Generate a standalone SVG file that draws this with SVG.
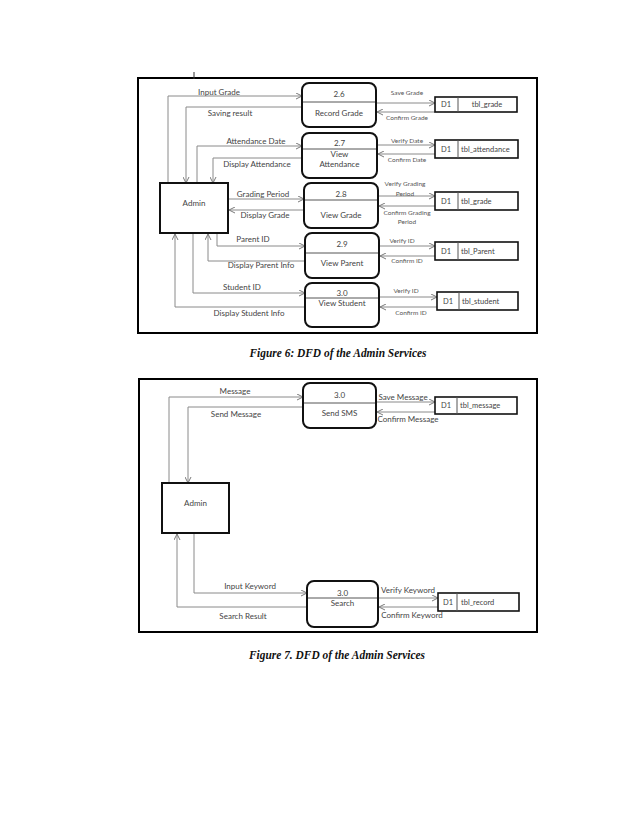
<svg xmlns="http://www.w3.org/2000/svg" width="638" height="826" viewBox="0 0 638 826">
<defs>
<marker id="arr" markerWidth="7" markerHeight="7" refX="6" refY="3.5" orient="auto" markerUnits="userSpaceOnUse">
<path d="M0,0.5 L6,3.5 L0,6.5" fill="none" stroke="#7a7a7a" stroke-width="1"/>
</marker>
</defs>
<style>
.frame{fill:none;stroke:#000;stroke-width:2}
.proc{fill:#fff;stroke:#111;stroke-width:2}
.ent{fill:#fff;stroke:#111;stroke-width:2}
.store{fill:#fff;stroke:#111;stroke-width:1.6}
.div{stroke:#555;stroke-width:1}
.fl{fill:none;stroke:#8a8a8a;stroke-width:1;marker-end:url(#arr)}
.t{font-family:Lato,"Liberation Sans",sans-serif;font-size:8px;fill:#444;text-anchor:middle}
.s{font-family:Lato,"Liberation Sans",sans-serif;font-size:6.5px;fill:#555;text-anchor:middle}
.st{font-family:Lato,"Liberation Sans",sans-serif;font-size:7.5px;fill:#444}
.cap{font-family:"Liberation Serif",serif;font-size:11.5px;font-weight:bold;font-style:italic;fill:#111;text-anchor:middle}
</style>
<rect width="638" height="826" fill="#fff"/>

<!-- Figure 6 -->
<rect class="frame" x="138" y="78" width="399" height="255"/>
<line x1="194" y1="72" x2="194" y2="79" stroke="#333" stroke-width="1"/>

<g id="connectors6">
<path class="fl" d="M168,183 V96 H302"/>
<path class="fl" d="M302,107 H186 V183"/>
<path class="fl" d="M197,183 V146 H302"/>
<path class="fl" d="M302,158 H213 V183"/>
<path class="fl" d="M228,199 H304"/>
<path class="fl" d="M304,210 H229"/>
<path class="fl" d="M217,233 V246 H305"/>
<path class="fl" d="M305,261 H208 V234"/>
<path class="fl" d="M193,233 V293 H305"/>
<path class="fl" d="M305,307 H175 V234"/>
<path class="fl" d="M376,103 H435"/>
<path class="fl" d="M435,112 H377"/>
<path class="fl" d="M377,145 H435"/>
<path class="fl" d="M435,154 H378"/>
<path class="fl" d="M378,196 H435"/>
<path class="fl" d="M435,206 H379"/>
<path class="fl" d="M379,246 H435"/>
<path class="fl" d="M435,256 H380"/>
<path class="fl" d="M379,297 H437"/>
<path class="fl" d="M437,307 H380"/>
<text class="t" x="219" y="95">Input Grade</text>
<text class="t" x="230" y="116">Saving result</text>
<text class="t" x="256" y="144">Attendance Date</text>
<text class="t" x="257" y="167">Display Attendance</text>
<text class="t" x="263" y="197">Grading Period</text>
<text class="t" x="265" y="218">Display Grade</text>
<text class="t" x="253" y="242">Parent ID</text>
<text class="t" x="261" y="268">Display Parent Info</text>
<text class="t" x="242" y="290">Student ID</text>
<text class="t" x="249" y="316">Display Student Info</text>
<text class="s" x="407" y="95">Save Grade</text>
<text class="s" x="407" y="120">Confirm Grade</text>
<text class="s" x="407" y="143">Verify Date</text>
<text class="s" x="407" y="162">Confirm Date</text>
<text class="s" x="405" y="186">Verify Grading</text>
<text class="s" x="405" y="196">Period</text>
<text class="s" x="407" y="215">Confirm Grading</text>
<text class="s" x="407" y="224">Period</text>
<text class="s" x="402" y="243">Verify ID</text>
<text class="s" x="407" y="263">Confirm ID</text>
<text class="s" x="406" y="293">Verify ID</text>
<text class="s" x="411" y="315">Confirm ID</text>
</g>

<g id="admin6">
<rect class="ent" x="160" y="183" width="68" height="50"/>
<text class="t" x="194" y="206">Admin</text>
</g>
<g id="p26">
<rect class="proc" x="302" y="83" width="74" height="44" rx="7"/>
<line class="div" x1="303" y1="102" x2="375" y2="102"/>
<text class="t" x="339" y="97">2.6</text>
<text class="t" x="339" y="116">Record Grade</text>
</g>
<g id="p27">
<rect class="proc" x="302" y="133" width="75" height="45" rx="7"/>
<line class="div" x1="303" y1="149" x2="376" y2="149"/>
<text class="t" x="339.5" y="146">2.7</text>
<text class="t" x="339.5" y="157">View</text>
<text class="t" x="339.5" y="167">Attendance</text>
</g>
<g id="p28">
<rect class="proc" x="304" y="183" width="74" height="45" rx="7"/>
<line class="div" x1="305" y1="200" x2="377" y2="200"/>
<text class="t" x="341" y="197">2.8</text>
<text class="t" x="341" y="218">View Grade</text>
</g>
<g id="p29">
<rect class="proc" x="305" y="233" width="74" height="45" rx="7"/>
<line class="div" x1="306" y1="253" x2="378" y2="253"/>
<text class="t" x="342" y="247">2.9</text>
<text class="t" x="342" y="266">View Parent</text>
</g>
<g id="p30a">
<rect class="proc" x="305" y="283" width="74" height="44" rx="7"/>
<line class="div" x1="306" y1="298" x2="378" y2="298"/>
<text class="t" x="342" y="296">3.0</text>
<text class="t" x="342" y="306">View Student</text>
</g>

<g id="s1">
<rect class="store" x="435" y="97" width="82" height="15"/>
<line class="div" x1="458" y1="97" x2="458" y2="112"/>
<text class="st" x="441" y="107">D1</text>
<text class="st" x="487" y="107" text-anchor="middle">tbl_grade</text>
</g>
<g id="s2">
<rect class="store" x="435" y="140" width="83" height="18"/>
<line class="div" x1="458" y1="140" x2="458" y2="158"/>
<text class="st" x="441" y="152">D1</text>
<text class="st" x="461" y="152">tbl_attendance</text>
</g>
<g id="s3">
<rect class="store" x="435" y="192" width="83" height="18"/>
<line class="div" x1="458" y1="192" x2="458" y2="210"/>
<text class="st" x="441" y="204">D1</text>
<text class="st" x="461" y="204">tbl_grade</text>
</g>
<g id="s4">
<rect class="store" x="435" y="242" width="83" height="18"/>
<line class="div" x1="458" y1="242" x2="458" y2="260"/>
<text class="st" x="441" y="254">D1</text>
<text class="st" x="461" y="254">tbl_Parent</text>
</g>
<g id="s5">
<rect class="store" x="437" y="292" width="81" height="18"/>
<line class="div" x1="459" y1="292" x2="459" y2="310"/>
<text class="st" x="443" y="304">D1</text>
<text class="st" x="462" y="304">tbl_student</text>
</g>

<text class="cap" x="338" y="357" textLength="177" lengthAdjust="spacingAndGlyphs">Figure 6: DFD of the Admin Services</text>

<!-- Figure 7 -->
<rect class="frame" x="139" y="379" width="398" height="253"/>

<g id="connectors7">
<path class="fl" d="M169,483 V397 H303"/>
<path class="fl" d="M303,407 H188 V483"/>
<path class="fl" d="M376,402 H435"/>
<path class="fl" d="M435,412 H377"/>
<path class="fl" d="M194,533 V593 H307"/>
<path class="fl" d="M307,607 H177 V534"/>
<path class="fl" d="M378,598 H438"/>
<path class="fl" d="M438,607 H379"/>
<text class="t" x="235" y="394">Message</text>
<text class="t" x="236" y="417">Send Message</text>
<text class="t" x="403" y="400">Save Message</text>
<text class="t" x="408" y="422">Confirm Message</text>
<text class="t" x="250" y="589">Input Keyword</text>
<text class="t" x="243" y="619">Search Result</text>
<text class="t" x="408" y="593">Verify Keyword</text>
<text class="t" x="412" y="618">Confirm Keyword</text>
</g>

<g id="admin7">
<rect class="ent" x="162" y="483" width="67" height="50"/>
<text class="t" x="195.5" y="506">Admin</text>
</g>
<g id="psms">
<rect class="proc" x="303" y="383" width="73" height="45" rx="7"/>
<line class="div" x1="304" y1="403" x2="375" y2="403"/>
<text class="t" x="339.5" y="398">3.0</text>
<text class="t" x="339.5" y="416">Send SMS</text>
</g>
<g id="psearch">
<rect class="proc" x="307" y="581" width="71" height="46" rx="7"/>
<line class="div" x1="308" y1="598" x2="377" y2="598"/>
<text class="t" x="342.5" y="596">3.0</text>
<text class="t" x="342.5" y="606">Search</text>
</g>
<g id="smsg">
<rect class="store" x="435" y="397" width="82" height="17"/>
<line class="div" x1="457" y1="397" x2="457" y2="414"/>
<text class="st" x="441" y="408">D1</text>
<text class="st" x="460" y="408">tbl_message</text>
</g>
<g id="srec">
<rect class="store" x="438" y="593" width="81" height="18"/>
<line class="div" x1="457" y1="593" x2="457" y2="611"/>
<text class="st" x="443" y="605">D1</text>
<text class="st" x="461" y="605">tbl_record</text>
</g>

<text class="cap" x="337" y="659" textLength="176" lengthAdjust="spacingAndGlyphs">Figure 7. DFD of the Admin Services</text>
</svg>
